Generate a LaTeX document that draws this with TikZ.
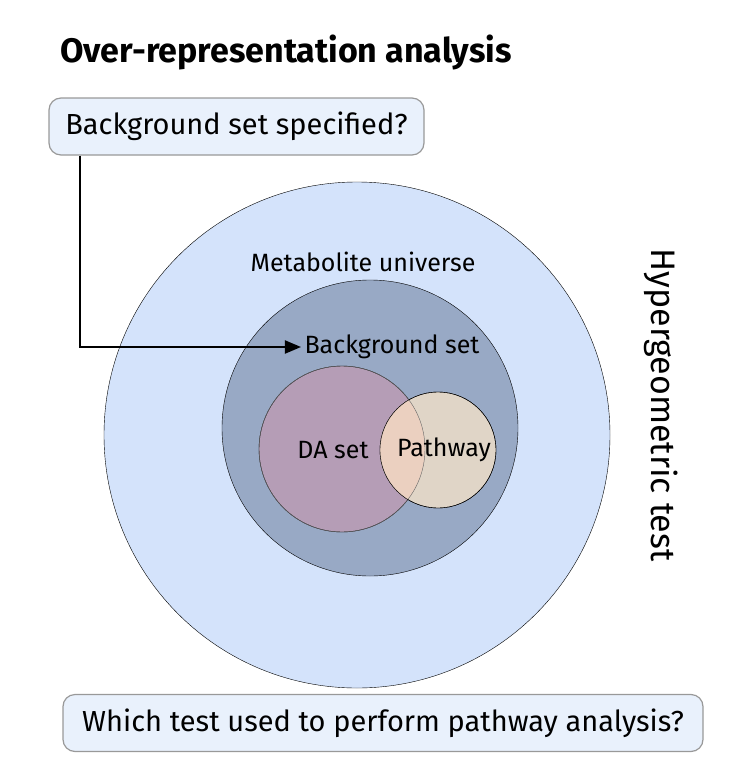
\documentclass[tikz,border=0pt]{standalone}
\usepackage{fontspec}
\setmainfont{Fira Sans}
\usetikzlibrary{arrows.meta}
\usetikzlibrary{positioning}
\definecolor{universe}{RGB}{212,227,251}
\definecolor{bgset}{RGB}{152,169,197}
\definecolor{daset}{RGB}{181,157,182}
\definecolor{pathway}{RGB}{224,213,199}
\definecolor{overlap}{RGB}{235,208,192}
\definecolor{boxfill}{RGB}{233,241,252}
\tikzset{
  question/.style={draw=gray!80,fill=boxfill,rounded corners=12pt,line width=1.2pt,
    minimum height=57pt,font=\fontsize{29}{33}\selectfont},
  setlabel/.style={font=\fontsize{25}{29}\selectfont},
}

\begin{document}
\begin{tikzpicture}[x=1pt,y=-1pt]
  \useasboundingbox (0,0) rectangle (752,779);

  \node [anchor=west,inner sep=0pt,font=\fontsize{34}{40}\selectfont\bfseries] (title) at (60,52) {Over-representation analysis};
  \node [question,minimum width=375pt] (q1) at (236.5,126.5) {Background set specified?};

  % sets
  \draw [fill=universe] (357,435) circle (253);
  \draw [fill=bgset] (370,428) circle (148);
  \draw [fill=daset] (342,449) circle (83);
  \draw [fill=pathway] (438,450) circle (58);
  \begin{scope}
    \clip (342,449) circle (83);
    \fill [overlap] (438,450) circle (58);
  \end{scope}
  \draw [draw=black!60,line width=0.4pt] (342,449) circle (83);
  \draw (438,450) circle (58);

  \node [setlabel] (universe) at (363,262) {Metabolite universe};
  \node [setlabel] (bg) at (392,347) {Background set};
  \node [setlabel] (da) at (333,450) {DA set};
  \node [setlabel] (pw) at (444,450) {Pathway};

  \draw [-{Triangle[length=16pt,width=13pt]},line width=2pt] ([xshift=32pt]q1.south west) |- (bg.west);

  \node [rotate=-90,font=\fontsize{34}{40}\selectfont] (test) at (661,405) {Hypergeometric test};
  \node [question,minimum width=640pt] (q2) at (383,723) {Which test used to perform pathway analysis?};
\end{tikzpicture}
\end{document}
